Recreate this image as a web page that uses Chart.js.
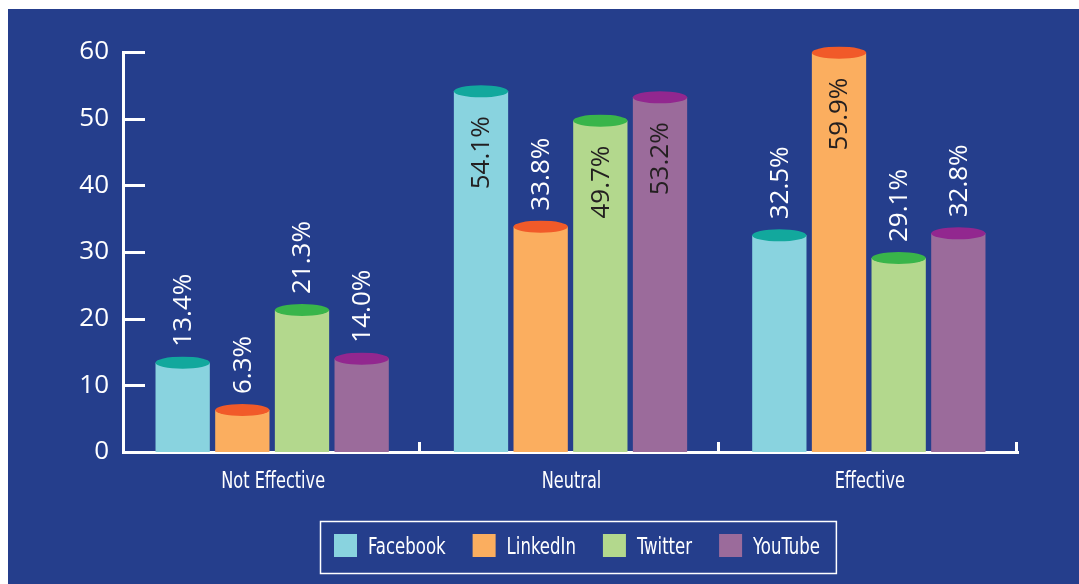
<!DOCTYPE html>
<html><head><meta charset="utf-8">
<script src="https://cdn.jsdelivr.net/npm/chart.js@4.4.0/dist/chart.umd.min.js"></script>
<style>html,body{margin:0;padding:0;background:#fff;overflow:hidden}#wrap{width:1079px;height:584px;position:relative}</style>
</head><body><div id="wrap"><canvas id="c" width="1079" height="584"></canvas></div>
<script>
const categories = ['Not Effective', 'Neutral', 'Effective'];
const seriesNames = ['Facebook', 'LinkedIn', 'Twitter', 'YouTube'];
const facebook = [13.4, 54.1, 32.5];
const linkedin = [6.3, 33.8, 59.9];
const twitter = [21.3, 49.7, 29.1];
const youtube = [14.0, 53.2, 32.8];
const yTicks = [0, 10, 20, 30, 40, 50, 60];
const barColors = ['#89D3DF', '#FBAE5F', '#B3D88D', '#9B6B9B'];
const capColors = ['#12A89D', '#F15A29', '#39B54A', '#92278F'];

const BG = '#253E8C';
const NARROW = "'DejaVu Sans Condensed', 'Liberation Sans Narrow', sans-serif";
const NUMF = "'Open Sans', 'DejaVu Sans', sans-serif";

function condensedText(ctx, txt, x, y, size, align, sx) {
  ctx.save();
  ctx.font = size + 'px ' + NARROW;
  ctx.textBaseline = 'alphabetic';
  const w = ctx.measureText(txt).width * sx;
  let x0 = x;
  if (align === 'center') x0 = x - w / 2;
  else if (align === 'right') x0 = x - w;
  ctx.translate(x0, y);
  ctx.scale(sx, 1);
  ctx.textAlign = 'left';
  ctx.fillText(txt, 0, 0);
  ctx.restore();
  return w;
}
function condensedWidth(ctx, txt, size, sx) {
  ctx.save();
  ctx.font = size + 'px ' + NARROW;
  const w = ctx.measureText(txt).width * sx;
  ctx.restore();
  return w;
}

const bgPlugin = {
  id: 'bg',
  beforeDraw(chart) {
    const ctx = chart.ctx;
    ctx.save();
    ctx.fillStyle = '#ffffff';
    ctx.fillRect(0, 0, chart.width, chart.height);
    ctx.fillStyle = BG;
    ctx.fillRect(8, 9, chart.width - 8, chart.height - 9);
    ctx.restore();
  }
};

const cylPlugin = {
  id: 'cyl',
  afterDatasetsDraw(chart) {
    const ctx = chart.ctx;
    ctx.save();
    chart.data.datasets.forEach((ds, di) => {
      const meta = chart.getDatasetMeta(di);
      meta.data.forEach((el) => {
        ctx.beginPath();
        ctx.ellipse(el.x, el.y, el.width / 2, 6, 0, 0, Math.PI * 2);
        ctx.fillStyle = capColors[di];
        ctx.fill();
      });
    });
    chart.data.datasets.forEach((ds, di) => {
      const meta = chart.getDatasetMeta(di);
      meta.data.forEach((el, i) => {
        const v = ds.data[i];
        const txt = v.toFixed(1) + '%';
        ctx.save();
        ctx.font = '26px ' + NUMF;
        ctx.textBaseline = 'middle';
        ctx.translate(el.x + 1, el.y);
        ctx.rotate(-Math.PI / 2);
        if (v > 45) {
          ctx.fillStyle = '#231F20';
          ctx.textAlign = 'right';
          ctx.fillText(txt, -25, 0);
        } else {
          ctx.fillStyle = '#ffffff';
          ctx.textAlign = 'left';
          ctx.fillText(txt, 16, 0);
        }
        ctx.restore();
      });
    });
    ctx.restore();
  }
};

const axisPlugin = {
  id: 'axisTicks',
  afterDraw(chart) {
    const ctx = chart.ctx;
    const y = chart.scales.y, x = chart.scales.x;
    const area = chart.chartArea;
    ctx.save();
    ctx.strokeStyle = '#ffffff';
    ctx.fillStyle = '#ffffff';
    ctx.lineWidth = 3;
    ctx.beginPath();
    yTicks.forEach(t => {
      if (t === 0) return;
      const py = Math.round(y.getPixelForValue(t)) + 0.5;
      ctx.moveTo(area.left, py);
      ctx.lineTo(area.left + 22, py);
    });
    const half = (x.getPixelForValue(1) - x.getPixelForValue(0)) / 2;
    categories.forEach((c, i) => {
      const px = Math.round(x.getPixelForValue(i) + half) - 1.5;
      ctx.moveTo(px, area.bottom);
      ctx.lineTo(px, area.bottom - 10);
    });
    ctx.stroke();

    // category labels
    x.getLabels().forEach((lab, i) => {
      condensedText(ctx, lab, x.getPixelForValue(i) + 1, area.bottom + 36, 23, 'center', 0.78);
    });

    // legend
    const fs = 23, lsx = 0.8;
    const sw = 23, sh = 23, gapT = 11, gapI = 27, padL = 14, padR = 16;
    const widths = seriesNames.map(n => condensedWidth(ctx, n, fs, lsx));
    let total = padL + padR;
    widths.forEach((w, i) => { total += sw + gapT + w + (i < widths.length - 1 ? gapI : 0); });
    const cx = 578;
    const left = Math.round(cx - total / 2);
    const top = 521, h = 52;
    ctx.lineWidth = 1.5;
    ctx.strokeRect(left + 0.5, top + 0.5, total, h);
    let xx = left + padL;
    seriesNames.forEach((n, i) => {
      ctx.fillStyle = barColors[i];
      ctx.fillRect(xx, 534, sw, sh);
      xx += sw + gapT;
      ctx.fillStyle = '#ffffff';
      condensedText(ctx, n, xx, 554, fs, 'left', lsx);
      xx += widths[i] + gapI;
    });
    ctx.restore();
  }
};

const datasets = [facebook, linkedin, twitter, youtube].map((d, i) => ({
  label: seriesNames[i],
  data: d,
  backgroundColor: barColors[i],
  borderWidth: 0,
  categoryPercentage: 0.8,
  barPercentage: 0.91
}));

new Chart(document.getElementById('c'), {
  type: 'bar',
  data: { labels: categories, datasets },
  options: {
    responsive: false,
    animation: false,
    devicePixelRatio: 1,
    layout: { padding: { top: 52, right: 61, left: 0, bottom: 0 } },
    plugins: { legend: { display: false }, tooltip: { enabled: false } },
    scales: {
      x: {
        grid: { display: false, drawTicks: false },
        border: { display: true, color: '#ffffff', width: 3 },
        ticks: { display: false },
        afterFit(s) { s.height = 132; }
      },
      y: {
        min: 0, max: 60,
        afterBuildTicks(s) { s.ticks = yTicks.map(v => ({ value: v })); },
        grid: { display: false, drawTicks: false },
        border: { display: true, color: '#ffffff', width: 3 },
        ticks: { color: '#ffffff', font: { family: NUMF, size: 26 }, padding: 14 },
        afterFit(s) { s.width = 123; }
      }
    }
  },
  plugins: [bgPlugin, cylPlugin, axisPlugin]
});
</script>
</body></html>
